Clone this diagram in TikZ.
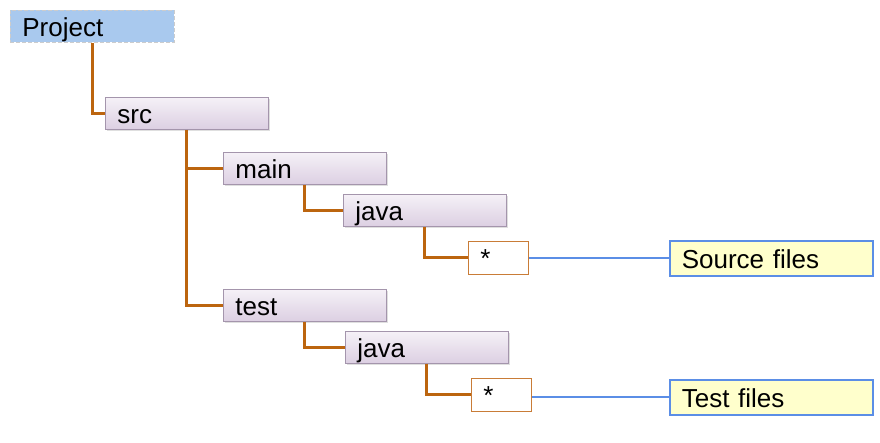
\documentclass[tikz,border=0pt]{standalone}
\usepackage{fontspec}
\setmainfont{Liberation Sans}
\usepackage{tikz}
\usetikzlibrary{shadows}
\definecolor{rootfill}{HTML}{A9C9EE}
\definecolor{dirtop}{HTML}{F5F1F7}
\definecolor{dirbot}{HTML}{DCCFE2}
\definecolor{dirline}{HTML}{A495AC}
\definecolor{branch}{HTML}{BC650F}
\definecolor{leafline}{HTML}{C97C37}
\definecolor{notefill}{HTML}{FFFFCC}
\definecolor{noteline}{HTML}{5B8EE6}

\begin{document}
\begin{tikzpicture}[x=0.5pt,y=-0.5pt,
    box/.style={anchor=north west,inner xsep=6pt,inner ysep=0pt,align=left,
      text height=10pt,text depth=0pt,font=\fontsize{13}{15}\selectfont},
    root/.style={box,fill=rootfill,draw=black!20,dash pattern=on 2pt off 1pt,line width=0.4pt,
      minimum height=16pt,text width=70pt},
    dir/.style={box,top color=dirtop,bottom color=dirbot,draw=dirline,
      drop shadow={opacity=0.25,shadow xshift=1pt,shadow yshift=-1pt},
      minimum height=16pt,text width=69.5pt},
    leaf/.style={box,fill=white,draw=leafline,minimum height=16.5pt,text width=18pt,inner xsep=6pt},
    note/.style={box,fill=notefill,draw=noteline,line width=0.8pt,minimum height=17.5pt,text width=89.5pt},
    tree/.style={draw=branch,line width=1.5pt},
    link/.style={draw=noteline,line width=0.9pt}]
  \useasboundingbox (0,0) rectangle (880,443);
  % folders
  \node[root] (project) at (10,10) {Project};
  \node[dir] (src) at (105,97) {src};
  \node[dir] (main) at (223,152) {main};
  \node[dir] (java1) at (343,194) {java};
  \node[leaf] (star1) at (468,241) {*};
  \node[dir] (test) at (223,289) {test};
  \node[dir] (java2) at (345,331) {java};
  \node[leaf] (star2) at (471,378) {*};
  % notes
  \node[note] (srcfiles) at (669,240) {Source files};
  \node[note] (testfiles) at (669,379) {Test files};
  % tree lines
  \path[tree] (project.south) |- (src.west);
  \path[tree] (src.south) |- (main.west);
  \path[tree] (src.south) |- (test.west);
  \path[tree] (main.south) |- (java1.west);
  \path[tree] (java1.south) |- (star1.west);
  \path[tree] (test.south) |- (java2.west);
  \path[tree] (java2.south) |- (star2.west);
  % links
  \path[link] (srcfiles.west -| star1.east) -- (srcfiles.west);
  \path[link] (testfiles.west -| star2.east) -- (testfiles.west);
\end{tikzpicture}
\end{document}
